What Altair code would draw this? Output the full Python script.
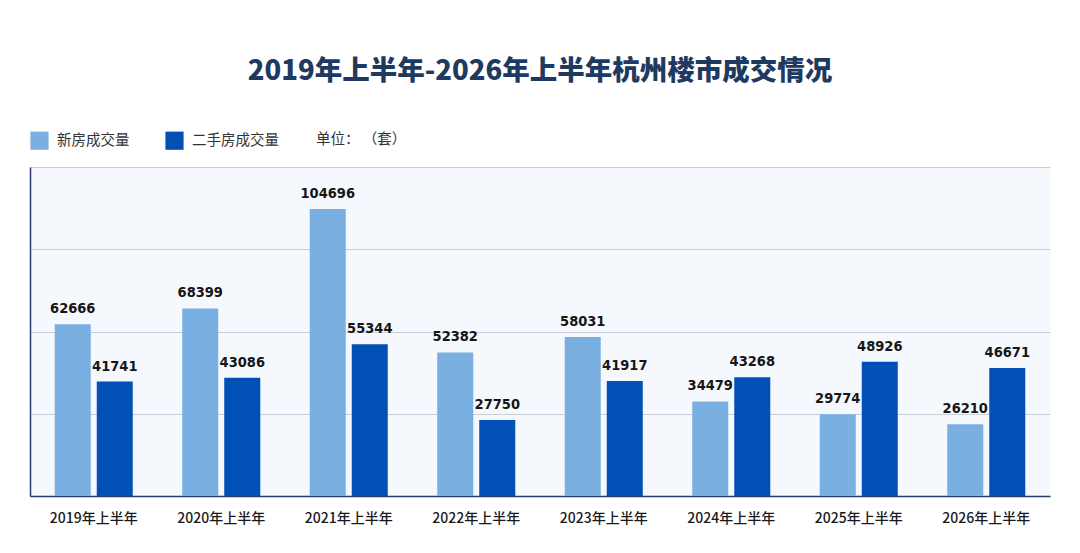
import altair as alt
import pandas as pd

periods = ["2019年上半年", "2020年上半年", "2021年上半年", "2022年上半年",
           "2023年上半年", "2024年上半年", "2025年上半年", "2026年上半年"]
new_homes = [62666, 68399, 104696, 52382, 58031, 34479, 29774, 26210]
second_hand = [41741, 43086, 55344, 27750, 41917, 43268, 48926, 46671]
series_names = ["新房成交量", "二手房成交量"]
series_colors = ["#7aafe2", "#0050b6"]

rows = []
for p, a, b in zip(periods, new_homes, second_hand):
    rows.append({"period": p, "series": series_names[0], "value": a})
    rows.append({"period": p, "series": series_names[1], "value": b})
df = pd.DataFrame(rows)

FONT = "Noto Sans CJK SC"
NUM_FONT = "DejaVu Sans Condensed"

x = alt.X("period:N", sort=periods, title=None,
          scale=alt.Scale(paddingInner=0.388, paddingOuter=0.194),
          axis=alt.Axis(labelAngle=0, labelFont=FONT, labelFontSize=14,
                        labelFontWeight=500, labelColor="#1a1a1a", labelPadding=15,
                        ticks=False, grid=False, domainColor="#2a3d6e", domainWidth=1.5))
xo = alt.XOffset("series:N", sort=series_names,
                 scale=alt.Scale(paddingInner=0.143, paddingOuter=0))
y = alt.Y("value:Q", title=None,
          scale=alt.Scale(domain=[0, 120000], nice=False),
          axis=alt.Axis(values=[0, 30000, 60000, 90000, 120000], labels=False,
                        ticks=False, domainColor="#2a3d6e", domainWidth=1.5,
                        gridColor="#c9ced8", gridWidth=1.2))

bars = alt.Chart(df).mark_bar().encode(
    x=x, xOffset=xo, y=y,
    color=alt.Color("series:N", sort=series_names,
                    scale=alt.Scale(domain=series_names, range=series_colors),
                    legend=alt.Legend(title=None, orient="none", legendX=0, legendY=-36,
                                      direction="horizontal", symbolType="square",
                                      symbolSize=330, symbolStrokeWidth=0,
                                      labelFont=FONT, labelFontSize=14.5,
                                      labelColor="#333333", labelOffset=8,
                                      columnPadding=35, padding=0)),
)

labels = alt.Chart(df).mark_text(
    baseline="alphabetic", dy=-11, font=NUM_FONT, fontSize=14.5,
    fontWeight="bold", color="#161616"
).encode(x=x, xOffset=xo, y=y, text=alt.Text("value:Q", format="d"))

unit = alt.Chart(pd.DataFrame({"t": ["单位： （套）"]})).mark_text(
    align="left", baseline="middle", font=FONT, fontSize=14.5, color="#333333"
).encode(x=alt.value(286), y=alt.value(-27), text="t:N")

chart = alt.layer(bars, labels, unit).properties(
    width=1020, height=329,
    view=alt.ViewBackground(fill="#f5f8fd", strokeOpacity=0, strokeWidth=0),
    title=alt.TitleParams("2019年上半年-2026年上半年杭州楼市成交情况",
                          font=FONT, fontSize=27.5, fontWeight=900,
                          color="#1f3a60", anchor="middle", offset=46),
    padding={"left": 22, "top": 159, "right": 22, "bottom": 40},
    autosize=alt.AutoSizeParams(type="none"),
).configure_view(fill="#f5f8fd", stroke="transparent", strokeOpacity=0, strokeWidth=0).configure(background="white")

chart.save("out.html", embed_options={"renderer": "svg", "actions": False})
